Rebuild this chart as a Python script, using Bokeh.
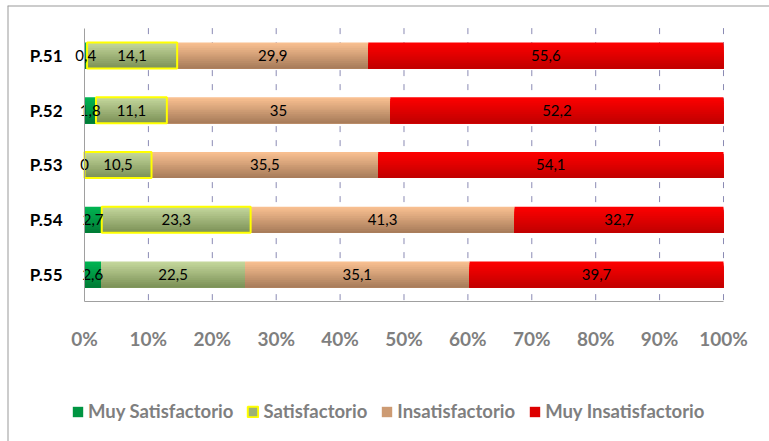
from bokeh.plotting import figure
from bokeh.models import (ColumnDataSource, Range1d, Legend, LegendItem, Span,
                          PrintfTickFormatter, FixedTicker, CustomJSTickFormatter)
from bokeh.transform import dodge
from bokeh.core.properties import value
from bokeh.embed import file_html
from bokeh.resources import INLINE

# ---------------- data ----------------
questions = ["P.51", "P.52", "P.53", "P.54", "P.55"]
series = ["Muy Satisfactorio", "Satisfactorio", "Insatisfactorio", "Muy Insatisfactorio"]
muy_satisfactorio = [0.4, 1.8, 0, 2.7, 2.6]
satisfactorio = [14.1, 11.1, 10.5, 23.3, 22.5]
insatisfactorio = [29.9, 35, 35.5, 41.3, 35.1]
muy_insatisfactorio = [55.6, 52.2, 54.1, 32.7, 39.7]
x_ticks = [0, 10, 20, 30, 40, 50, 60, 70, 80, 90, 100]

values = [muy_satisfactorio, satisfactorio, insatisfactorio, muy_insatisfactorio]

# ---------------- styles ----------------
top_colors = ["#00b552", "#c6d99e", "#fbc292", "#ff0000"]
bottom_colors = ["#007a35", "#7a8f55", "#a67a59", "#c00000"]
outline_flags = [False, True, False, False]   # series with yellow outline
outlined_rows = [True, True, True, True, False]
BAR_H = 0.475
N_BANDS = 14
X_START, X_END = -12.05, 107.2      # view extents (layout)
Y_BOTTOM, Y_TOP = 7.05, -0.913


def hex2rgb(h):
    h = h.lstrip("#")
    return tuple(int(h[i:i + 2], 16) for i in (0, 2, 4))


def mix(c1, c2, t):
    a, b = hex2rgb(c1), hex2rgb(c2)
    return "#%02x%02x%02x" % tuple(int(round(a[k] + (b[k] - a[k]) * t)) for k in range(3))


def fmt(v):
    if float(v) == int(v):
        return str(int(v))
    return ("%.1f" % v).replace(".", ",")


n = len(questions)
idx = list(range(n))            # P.51 at top (y axis flipped)
y_lo, y_hi = -0.5, n - 0.5      # extent of the category band area

p = figure(width=769, height=441, output_backend="svg", toolbar_location=None,
           x_range=Range1d(X_START, X_END), y_range=Range1d(Y_BOTTOM, Y_TOP),
           min_border_left=7, min_border_top=5, min_border_right=0, min_border_bottom=0)
p.outline_line_color = None
p.background_fill_color = "white"
p.xgrid.grid_line_color = None
p.ygrid.grid_line_color = None

# chart-area border (left and top edges visible in the reference)
p.add_layout(Span(location=X_START, dimension="height", line_color="#9a9a9a", line_width=2))
p.add_layout(Span(location=Y_TOP, dimension="width", line_color="#9a9a9a", line_width=2))

# dashed vertical grid lines limited to the bar area
gx = [t for t in x_ticks if t != 0]
p.segment(x0=gx, x1=gx, y0=[y_lo] * len(gx), y1=[y_hi] * len(gx),
          line_color="#8a8ab4", line_dash="6 8", line_width=1)

# cumulative positions
totals = [sum(v[i] for v in values) for i in range(n)]
lefts = [0.0] * n
sources = []
for s_idx, vals in enumerate(values):
    left, right, mid, lab = [], [], [], []
    for i, v in enumerate(vals):
        w = v / totals[i] * 100.0
        left.append(lefts[i])
        right.append(lefts[i] + w)
        mid.append(lefts[i] + w / 2)
        lab.append(fmt(v))
        lefts[i] += w
    src = ColumnDataSource(dict(y=idx, left=left, right=right, mid=mid, label=lab,
                                outline=["#ffff00" if (outline_flags[s_idx] and outlined_rows[i]) else None
                                         for i in range(n)]))
    sources.append(src)

# gradient bars: successive bottom-anchored overlays (light top -> dark bottom)
legend_renderers = []
for s_idx, src in enumerate(sources):
    mid_r = None
    for b in range(N_BANDS):
        h = BAR_H * (N_BANDS - b) / N_BANDS
        t = 1.0 - (b + 0.5) / N_BANDS
        col = mix(bottom_colors[s_idx], top_colors[s_idx], t)
        off = BAR_H / 2 - h / 2     # larger y is lower on screen
        r = p.hbar(y=dodge("y", off), left="left", right="right",
                   height=h, fill_color=col, line_color=None, source=src)
        if b == N_BANDS // 2:
            mid_r = r
    legend_renderers.append([mid_r])

# yellow outlines
for s_idx, src in enumerate(sources):
    if outline_flags[s_idx]:
        r = p.hbar(y="y", left="left", right="right", height=BAR_H, fill_color=None,
                   line_color="outline", line_width=2, source=src)
        legend_renderers[s_idx].append(r)

# data labels
for src in sources:
    p.text(x="mid", y="y", text="label", source=src, text_align="center",
           text_baseline="middle", text_font=value("Lato"), text_font_size="15px",
           text_color="black")

# axes (placed inside the frame)
p.xaxis.fixed_location = y_hi
p.xaxis.bounds = (x_ticks[0], x_ticks[-1])
p.xaxis.ticker = FixedTicker(ticks=x_ticks)
p.xaxis.formatter = PrintfTickFormatter(format="%d%%")
p.xaxis.major_label_text_font = "Lato"
p.xaxis.major_label_text_font_style = "bold"
p.xaxis.major_label_text_font_size = "19px"
p.xaxis.major_label_text_color = "#7f7f7f"
p.xaxis.major_label_standoff = 19
p.xaxis.axis_line_color = "#a0a0a0"
p.xaxis.major_tick_line_color = None
p.xaxis.minor_tick_line_color = None

p.yaxis.fixed_location = x_ticks[0]
p.yaxis.bounds = (y_lo, y_hi)
p.yaxis.ticker = FixedTicker(ticks=idx)
p.yaxis.formatter = CustomJSTickFormatter(args=dict(labels=questions),
                                          code="return labels[Math.round(tick)] || '';")
p.yaxis.major_label_text_font = "Lato"
p.yaxis.major_label_text_font_style = "bold"
p.yaxis.major_label_text_font_size = "17px"
p.yaxis.major_label_text_color = "black"
p.yaxis.major_label_standoff = 16
p.yaxis.axis_line_color = "#a0a0a0"
p.yaxis.major_tick_line_color = None
p.yaxis.minor_tick_line_color = None

# legend
items = [LegendItem(label=name, renderers=legend_renderers[s_idx], index=0)
         for s_idx, name in enumerate(series)]

legend = Legend(items=items, location=(64, 19), orientation="horizontal",
                glyph_width=13, glyph_height=13, label_standoff=4, spacing=13,
                padding=0, margin=0, border_line_color=None, background_fill_alpha=0,
                label_text_font="Lato", label_text_font_style="bold",
                label_text_font_size="18.5px", label_text_color="#7f7f7f")
p.add_layout(legend)

open("out.html", "w").write(file_html(p, INLINE))
